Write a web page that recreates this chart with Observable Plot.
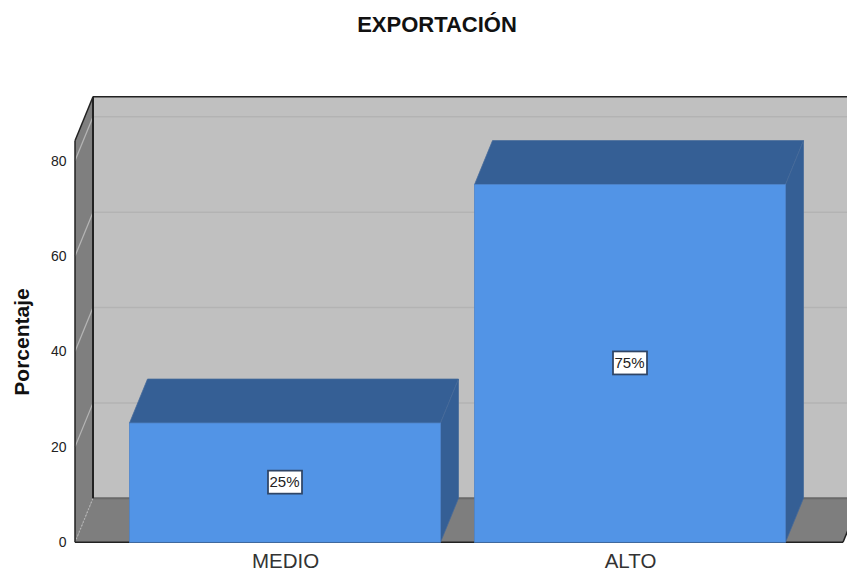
<!DOCTYPE html>
<html>
<head>
<meta charset="utf-8">
<script src="https://cdn.jsdelivr.net/npm/d3@7"></script>
<script src="https://cdn.jsdelivr.net/npm/@observablehq/plot@0.6"></script>
<style>
  html, body { margin: 0; padding: 0; background: #fff; overflow: hidden; }
  #chart { position: relative; width: 847px; height: 571px; overflow: hidden; }
  #chart svg { display: block; }
  #title {
    position: absolute; left: 0; top: 12px; width: 874px; text-align: center;
    font: bold 22px "Liberation Sans", Arial, sans-serif; color: #111;
  }
</style>
</head>
<body>
<div id="chart"><div id="title">EXPORTACIÓN</div></div>
<script>
const categories = ["MEDIO", "ALTO"];
const percentages = [25, 75];
const yTicks = [0, 20, 40, 60, 80];
const yTop = 84.2;
const axisTitle = "Porcentaje";

const rows = categories.map((category, i) => ({category, value: percentages[i]}));

// Oblique projection used for the box: how far the back plane sits from the front plane.
const depthX = 18;
const depthY = -44;

const svgNS = "http://www.w3.org/2000/svg";
function el(name, attrs) {
  const node = document.createElementNS(svgNS, name);
  for (const k in attrs) node.setAttribute(k, attrs[k]);
  return node;
}
const poly = (pts, fill, stroke, sw = 1) =>
  el("polygon", {points: pts.map((p) => p.join(",")).join(" "), fill, stroke: stroke ?? "none", "stroke-width": sw});
const seg = (a, b, stroke, sw = 1, extra = {}) =>
  el("line", {x1: a[0], y1: a[1], x2: b[0], y2: b[1], stroke, "stroke-width": sw, ...extra});

// Back wall, side wall, floor and their grid lines.
function roomMark(index, scales, values, dim) {
  const {y} = scales;
  const g = el("g", {});
  const L = dim.marginLeft, R = dim.width - dim.marginRight;
  const y0 = y(0), yT = y(yTop);
  const back = ([px, py]) => [px + depthX, py + depthY];

  g.append(poly([back([L, yT]), back([R, yT]), back([R, y0]), back([L, y0])], "#c0c0c0"));
  g.append(poly([[L, yT], back([L, yT]), back([L, y0]), [L, y0]], "#7f7f7f"));
  g.append(poly([[L, y0], back([L, y0]), back([R, y0]), [R, y0]], "#7e7e7e"));

  for (const t of yTicks.slice(1)) {
    g.append(seg([L, y(t)], back([L, y(t)]), "#b5b5b5", 1.25));
    g.append(seg(back([L, y(t)]), back([R, y(t)]), "#b3b3b3", 1.5));
  }
  g.append(seg([L, y0], back([L, y0]), "#b5b5b5", 1.25, {"stroke-dasharray": "1.5 2"}));
  g.append(seg(back([L, y0]), back([R, y0]), "#696969", 2));

  g.append(seg(back([L, yT]), back([R, yT]), "#222", 1.5));
  g.append(seg(back([L, yT]), back([L, y0]), "#222", 2));
  g.append(seg([L, yT], [L, y0], "#222", 1.5));
  g.append(seg([L, yT], back([L, yT]), "#222", 1.5));
  g.append(seg([L, y0], [R, y0], "#222", 1.5));
  g.append(seg([R, y0], back([R, y0]), "#222", 1.5));
  return g;
}

// Top and right faces of each bar, set behind the front face.
function sideFacesMark(index, scales) {
  const {x, y} = scales;
  const band = scales.x.bandwidth ?? scales.scales.x.bandwidth;
  const w = typeof band === "function" ? band() : band;
  const g = el("g", {});
  for (const {category, value} of rows) {
    const x0 = x(category), x1 = x0 + w, yv = y(value), yb = y(0);
    g.append(poly([[x0, yv], [x0 + depthX, yv + depthY], [x1 + depthX, yv + depthY], [x1, yv]], "#355f95", "#46699a", 0.75));
    g.append(poly([[x1, yv], [x1 + depthX, yv + depthY], [x1 + depthX, yb + depthY], [x1, yb]], "#355f95", "#46699a", 0.75));
  }
  return g;
}

// White boxes behind the percentage labels.
function labelBoxMark(index, scales) {
  const {x, y} = scales;
  const band = scales.x.bandwidth ?? scales.scales.x.bandwidth;
  const w = typeof band === "function" ? band() : band;
  const g = el("g", {});
  for (const {category, value} of rows) {
    const cx = x(category) + w / 2, cy = y(value / 2);
    g.append(el("rect", {x: cx - 17, y: cy - 12, width: 34, height: 23, fill: "#fff", stroke: "#2f4566", "stroke-width": 1.75}));
  }
  return g;
}

const chart = Plot.plot({
  width: 847,
  height: 571,
  marginLeft: 75,
  marginRight: 4,
  marginTop: 140.75,
  marginBottom: 28.75,
  style: {background: "transparent", fontFamily: "'Liberation Sans', Arial, sans-serif", overflow: "hidden"},
  x: {domain: categories, range: [112.5, 802.5], round: false, paddingInner: 0.0986, paddingOuter: 0.0493, label: null},
  y: {domain: [0, yTop], label: null},
  marks: [
    roomMark,
    sideFacesMark,
    Plot.barY(rows, {x: "category", y: "value", fill: "#5294e6", stroke: "#4b83cb", strokeWidth: 0.75}),
    Plot.axisX({tickSize: 0, tickPadding: 11, fontSize: 20.5, color: "#333", label: null}),
    Plot.axisY(yTicks, {tickSize: 0, tickPadding: 9, fontSize: 14, color: "#222", label: null}),
    Plot.text([axisTitle], {text: (d) => d, frameAnchor: "left", textAnchor: "middle", rotate: -90, dx: -53, fontSize: 21, fontWeight: "bold", fill: "#111"}),
    labelBoxMark,
    Plot.text(rows, {x: "category", y: (d) => d.value / 2, dx: -1, dy: -1, text: (d) => `${d.value}%`, fontSize: 15, fill: "#222"})
  ]
});
document.getElementById("chart").prepend(chart);
</script>
</body>
</html>
